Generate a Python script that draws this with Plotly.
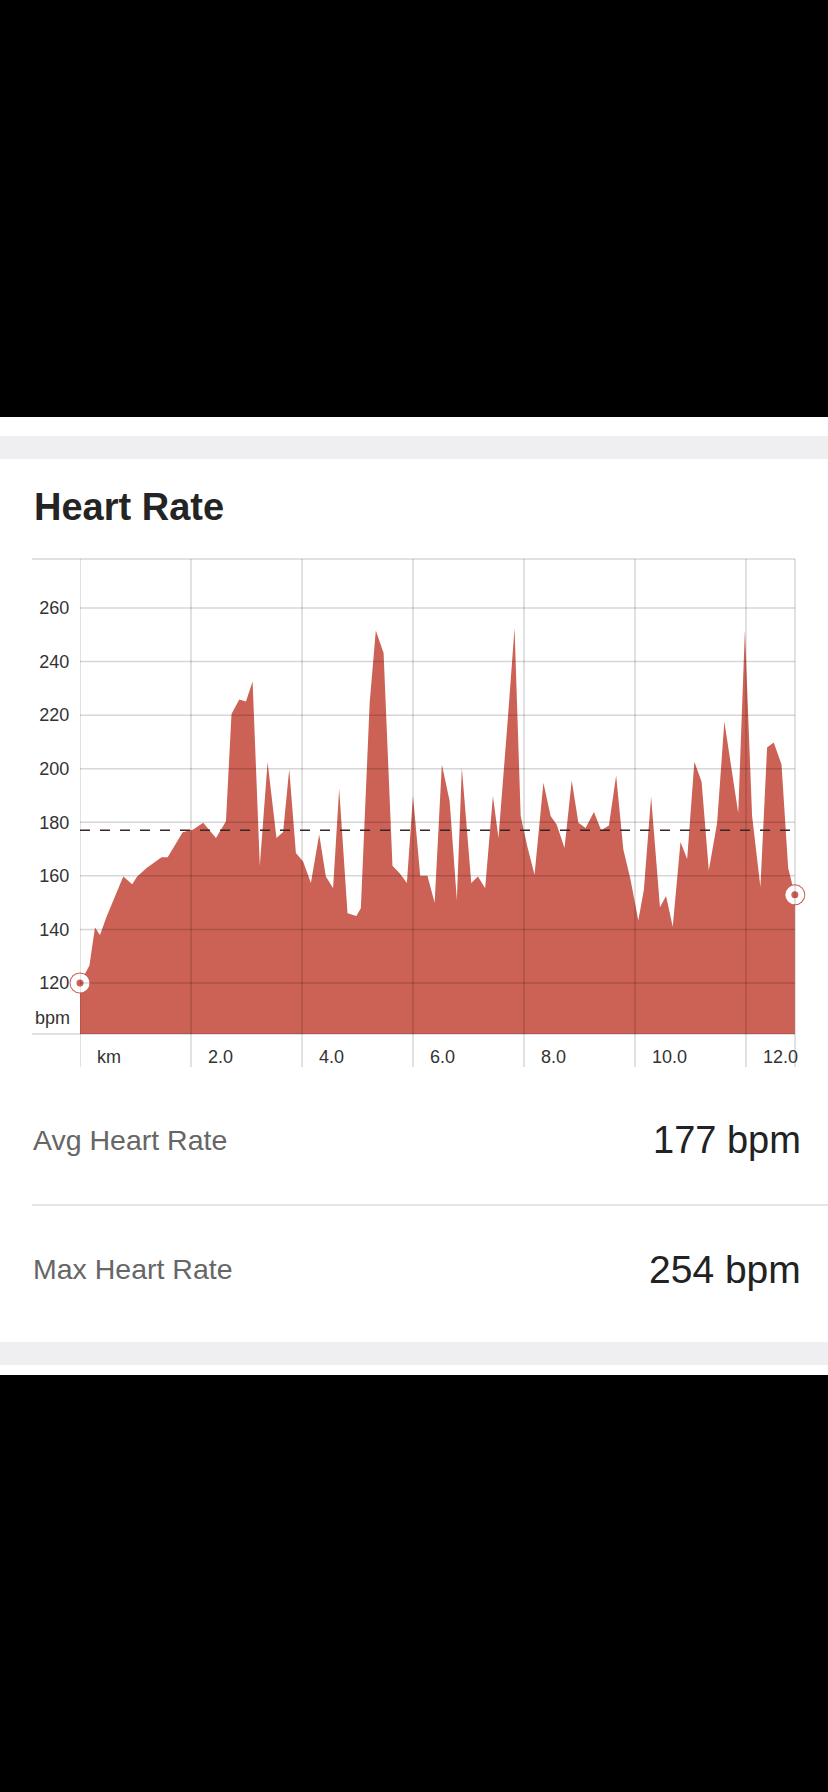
import plotly.graph_objects as go

W, H = 828, 1792

# heart rate samples (distance km, bpm)
dist_km = [0.00, 0.17, 0.27, 0.36, 0.48, 0.63, 0.78, 0.94, 1.03, 1.20, 1.47, 1.58,
           1.71, 1.85, 2.04, 2.22, 2.45, 2.63, 2.73, 2.87, 2.99, 3.11, 3.24, 3.38,
           3.54, 3.66, 3.77, 3.89, 4.02, 4.16, 4.31, 4.43, 4.56, 4.67, 4.82, 4.98,
           5.06, 5.22, 5.33, 5.47, 5.63, 5.76, 5.89, 6.00, 6.13, 6.26, 6.39, 6.52,
           6.66, 6.79, 6.88, 7.05, 7.17, 7.30, 7.44, 7.54, 7.71, 7.83, 7.94, 8.06,
           8.19, 8.35, 8.48, 8.59, 8.73, 8.86, 8.98, 9.11, 9.26, 9.39, 9.53, 9.66,
           9.79, 9.92, 10.06, 10.16, 10.29, 10.45, 10.56, 10.68, 10.82, 10.94, 11.07,
           11.20, 11.33, 11.48, 11.61, 11.74, 11.86, 11.98, 12.11, 12.26, 12.38,
           12.50, 12.64, 12.76, 12.88]
bpm = [120, 126.5, 140.7, 137.9, 144.8, 152.3, 159.8, 156.9, 159.8, 162.9, 166.9, 166.9,
       171.6, 176.3, 177.3, 179.8, 174.1, 180.4, 220.4, 225.8, 225.1, 232.6, 163.8, 202.5,
       174.1, 176.4, 199.8, 168.5, 165.4, 157.3, 175.4, 159.8, 155.4, 192.5, 146.0, 145.0,
       147.9, 224.8, 251.6, 243.2, 163.8, 161.0, 157.3, 189.8, 160.0, 160.0, 150.0, 201.6,
       187.9, 151.0, 200.4, 157.3, 159.8, 155.4, 189.8, 174.1, 219.0, 252.5, 182.3, 171.0,
       160.4, 194.8, 182.3, 179.1, 170.4, 195.6, 179.8, 177.9, 183.8, 177.0, 178.8, 197.5,
       169.8, 158.5, 143.3, 154.8, 189.5, 148.3, 152.5, 141.0, 172.6, 166.3, 202.6,
       195.1, 162.0, 179.8, 217.6, 200.4, 183.5, 251.6, 182.3, 155.8, 207.9,
       209.8, 201.6, 162.9, 152.9]

avg_hr = 177
max_hr = 254

y_ticks = [120, 140, 160, 180, 200, 220, 240, 260]
x_ticks = [0, 2, 4, 6, 8, 10, 12]
x_labels = ["km", "2.0", "4.0", "6.0", "8.0", "10.0", "12.0"]

RED = "rgb(204,97,85)"
GRID = "rgba(0,0,0,0.16)"
FONT = "Liberation Sans, Arial, sans-serif"


def px(x):
    return x / W


def py(y):
    return 1 - y / H


fig = go.Figure()
fig.add_trace(go.Scatter(x=dist_km, y=bpm, mode="lines", fill="tozeroy",
                         fillcolor=RED, line=dict(width=0, color=RED),
                         hoverinfo="skip"))
# end point markers
ends_x = [dist_km[0], dist_km[-1]]
ends_y = [bpm[0], bpm[-1]]
fig.add_trace(go.Scatter(x=ends_x, y=ends_y, mode="markers", cliponaxis=False,
                         marker=dict(size=21, color=RED), hoverinfo="skip"))
fig.add_trace(go.Scatter(x=ends_x, y=ends_y, mode="markers", cliponaxis=False,
                         marker=dict(size=13, color=RED, line=dict(color="white", width=6)),
                         hoverinfo="skip"))

shapes = []
# page bands
for y0, y1, col in [(0, 417, "black"), (436, 459, "#efeef1"),
                    (1342, 1365, "#efeef1"), (1375, H, "black")]:
    shapes.append(dict(type="rect", xref="paper", yref="paper", x0=0, x1=1,
                       y0=py(y1), y1=py(y0), fillcolor=col, line_width=0, layer="below"))

# grid drawn above the fill
for v in y_ticks:
    shapes.append(dict(type="line", xref="x domain", yref="y", x0=0, x1=1, y0=v, y1=v,
                       line=dict(color=GRID, width=1.5), layer="above"))
for v in x_ticks:
    shapes.append(dict(type="line", xref="x", yref="paper", x0=v, x1=v,
                       y0=py(1067), y1=py(559), line=dict(color=GRID, width=1.5), layer="above"))
shapes.append(dict(type="line", xref="x domain", yref="paper", x0=1, x1=1,
                   y0=py(1067), y1=py(559), line=dict(color=GRID, width=1.5), layer="above"))
for yy in (559, 1034):
    shapes.append(dict(type="line", xref="paper", yref="paper", x0=px(32), x1=px(795),
                       y0=py(yy), y1=py(yy), line=dict(color=GRID, width=1.5), layer="above"))
# average line
shapes.append(dict(type="line", xref="x domain", yref="y", x0=0, x1=1, y0=avg_hr, y1=avg_hr,
                   line=dict(color="#3a2626", width=1.5, dash="10px,10px"), layer="above"))
# separator between stats
shapes.append(dict(type="line", xref="paper", yref="paper", x0=px(32), x1=1,
                   y0=py(1205), y1=py(1205), line=dict(color="#dedede", width=1.5)))

annotations = [
    dict(text="<b>Heart Rate</b>", x=px(32), y=py(507), xanchor="left", yanchor="middle",
         font=dict(size=38, color="#242424")),
    dict(text="bpm", x=px(72), y=py(1018), xanchor="right", yanchor="middle",
         font=dict(size=18, color="#333333")),
    dict(text="Avg Heart Rate", x=px(31), y=py(1140), xanchor="left", yanchor="middle",
         font=dict(size=28.5, color="#666666")),
    dict(text=f"{avg_hr} bpm", x=px(803), y=py(1140), xanchor="right", yanchor="middle",
         font=dict(size=38, color="#222222")),
    dict(text="Max Heart Rate", x=px(31), y=py(1269), xanchor="left", yanchor="middle",
         font=dict(size=28.5, color="#666666")),
    dict(text=f"{max_hr} bpm", x=px(803), y=py(1269), xanchor="right", yanchor="middle",
         font=dict(size=39, color="#222222")),
]
for v, t in zip(x_ticks, x_labels):
    annotations.append(dict(text=t, x=v, xref="x", y=py(1057), yref="paper",
                            xanchor="left", yanchor="middle", xshift=15,
                            font=dict(size=18, color="#333333")))
for a in annotations:
    a.setdefault("xref", "paper")
    a.setdefault("yref", "paper")
    a["showarrow"] = False

fig.update_layout(
    width=W, height=H, margin=dict(l=0, r=0, t=0, b=0),
    paper_bgcolor="white", plot_bgcolor="white", showlegend=False,
    font=dict(family=FONT),
    shapes=shapes, annotations=annotations,
    xaxis=dict(domain=[px(80), px(795)], range=[0, 12.883], showgrid=False,
               zeroline=False, showticklabels=False, showline=False, fixedrange=True),
    yaxis=dict(domain=[py(1034), py(559)], range=[100.96, 278.29], tickvals=y_ticks,
               ticktext=[str(v) for v in y_ticks], ticks="outside", ticklen=6,
               tickcolor="rgba(0,0,0,0)", showgrid=False, zeroline=False,
               tickfont=dict(size=18, color="#333333"), layer="below traces",
               fixedrange=True),
)

fig.write_html("out.html", config={"displayModeBar": False},
               post_script="document.body.style.margin='0';document.body.style.overflow='hidden';")
